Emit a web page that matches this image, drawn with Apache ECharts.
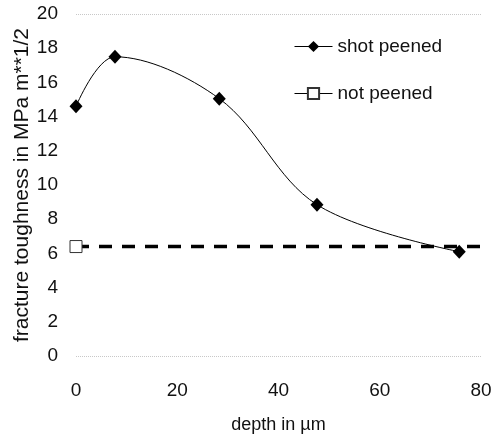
<!DOCTYPE html>
<html>
<head>
<meta charset="utf-8">
<script src="https://cdn.jsdelivr.net/npm/echarts@6/dist/echarts.min.js"></script>
<style>
  html, body { margin: 0; padding: 0; background: #fff; }
  #chart { width: 496px; height: 437px; }
</style>
</head>
<body>
<div id="chart"></div>
<script>
// depth in µm vs fracture toughness
const depthShot = [0, 7.7, 28.3, 47.6, 75.7];
const toughShot = [14.6, 17.5, 15.05, 8.85, 6.1];
const depthNot = [0, 82];
const toughNot = [6.4, 6.4];

const fontName = "'Liberation Sans', Arial, sans-serif";

const chart = echarts.init(document.getElementById("chart"));

const option = {
  backgroundColor: "#fff",
  animation: false,
  textStyle: { fontFamily: fontName, color: "#111" },
  grid: { left: 76, right: 15, top: 14, bottom: 81, outerBoundsMode: "none", containLabel: false },
  legend: {
    orient: "vertical",
    left: 289,
    top: 32,
    itemGap: 28,
    itemWidth: 38,
    itemHeight: 14,
    textStyle: { fontFamily: fontName, fontSize: 19, color: "#111" },
    data: [
      { name: "shot peened", lineStyle: { type: "solid", width: 1 } },
      { name: "not peened", lineStyle: { type: "solid", width: 1 } },
    ],
  },
  xAxis: {
    type: "value",
    min: 0,
    max: 80,
    interval: 20,
    name: "depth in µm",
    nameLocation: "middle",
    nameGap: 60,
    nameMoveOverlap: false,
    nameTextStyle: { fontFamily: fontName, fontSize: 18, color: "#111" },
    axisLine: { show: false },
    axisTick: { show: false },
    splitLine: { show: false },
    axisLabel: { fontFamily: fontName, fontSize: 19, color: "#111", margin: 25 },
  },
  yAxis: {
    type: "value",
    min: 0,
    max: 20,
    interval: 2,
    name: "fracture toughness in MPa m**1/2",
    nameLocation: "middle",
    nameGap: 43,
    nameMoveOverlap: false,
    nameTextStyle: { fontFamily: fontName, fontSize: 21, color: "#111" },
    axisLine: { show: false },
    axisTick: { show: false },
    axisLabel: { fontFamily: fontName, fontSize: 19, color: "#111", margin: 18 },
    splitLine: {
      show: true,
      lineStyle: {
        type: "dotted",
        width: 1,
        // only the 0 and 20 lines are (faintly) visible
        color: ["#c8c8c8", "transparent", "transparent", "transparent", "transparent",
                "transparent", "transparent", "transparent", "transparent", "transparent", "#c8c8c8"],
      },
    },
  },
  series: [
    {
      name: "not peened",
      type: "line",
      clip: false,
      data: depthNot.map((x, i) => ({
        value: [x, toughNot[i]],
        symbol: i === 0 ? "rect" : "none",
      })),
      symbol: "rect",
      symbolSize: 12,
      itemStyle: { color: "#fff", borderColor: "#333", borderWidth: 1 },
      lineStyle: { color: "#000", width: 3.5, type: [13, 10] },
      z: 2,
    },
    {
      name: "shot peened",
      type: "line",
      smooth: 0.35,
      data: depthShot.map((x, i) => [x, toughShot[i]]),
      symbol: "diamond",
      symbolSize: [13, 14],
      itemStyle: { color: "#000" },
      lineStyle: { color: "#000", width: 1 },
      z: 3,
    },
  ],
};

chart.setOption(option);
</script>
</body>
</html>
